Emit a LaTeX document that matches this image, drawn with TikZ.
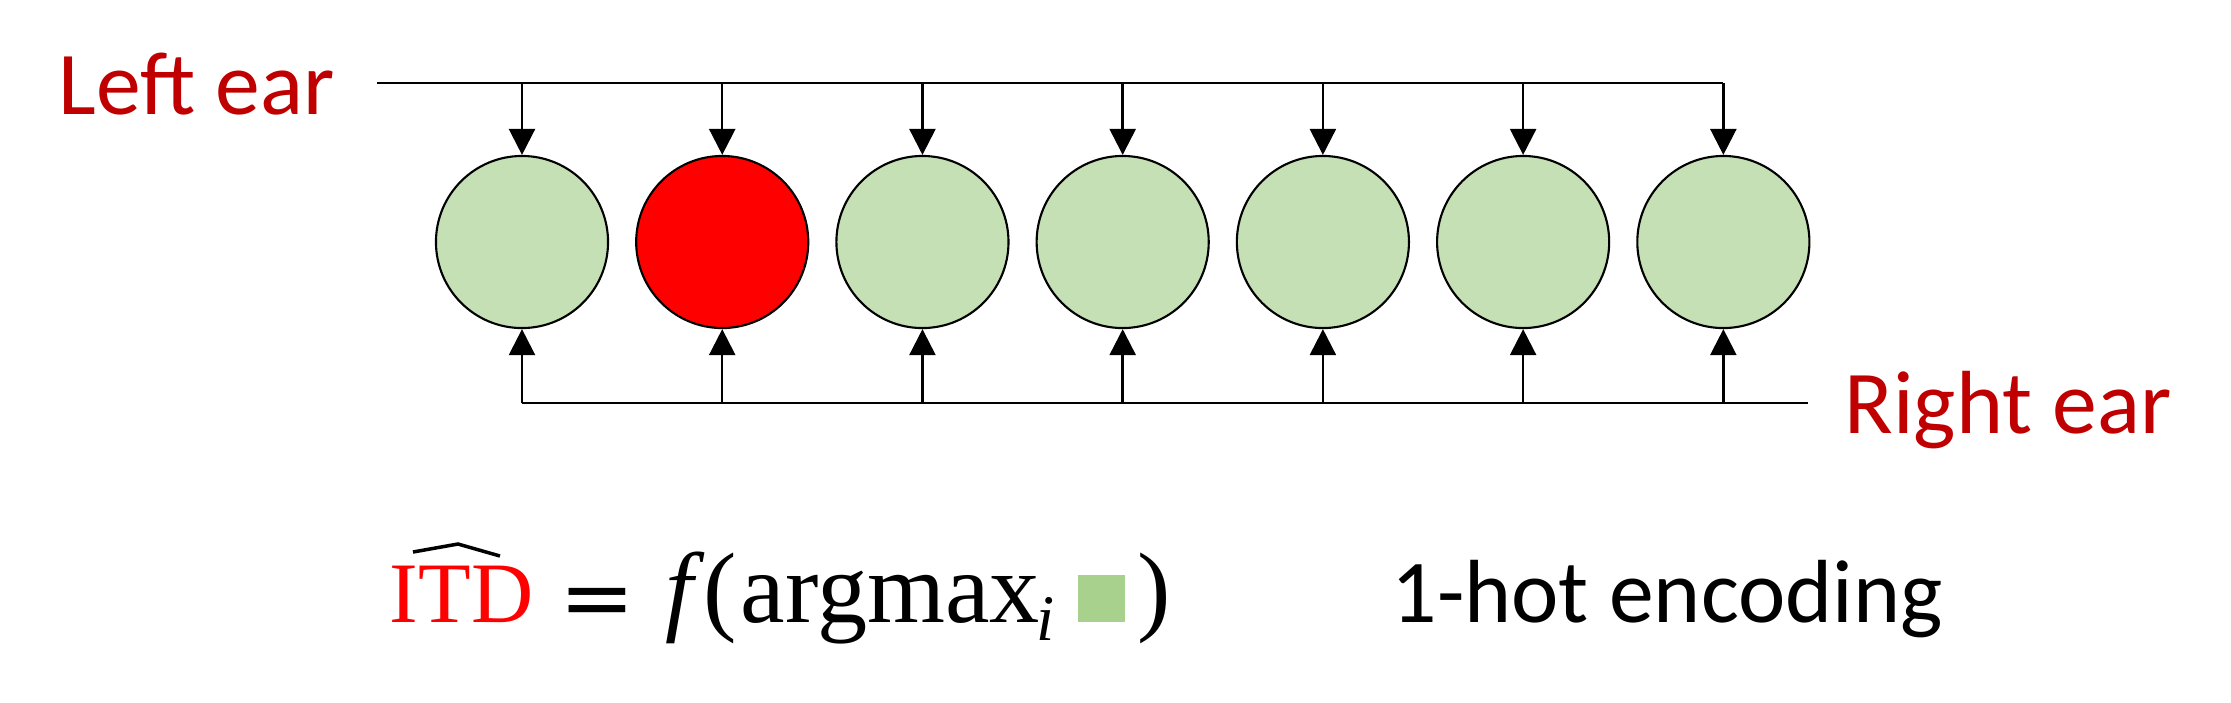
\documentclass[tikz,border=0pt]{standalone}
\usepackage{fontspec}
\setmainfont{Carlito}
\newfontfamily\formulafont{Liberation Serif}
\newfontfamily\equalfont{DejaVu Sans}
\usetikzlibrary{arrows.meta,positioning}

\definecolor{cellgreen}{HTML}{C5E0B4}
\definecolor{squaregreen}{HTML}{A9D18E}
\definecolor{earred}{HTML}{C00000}

\begin{document}
\begin{tikzpicture}[
    x=0.01cm, y=-0.01cm,
    cell/.style={circle, draw, line width=0.6pt, fill=cellgreen, minimum size=1.72cm, inner sep=0pt},
    ear/.style={anchor=base west, inner sep=0pt, text=earred, font=\fontsize{25.5}{30}\selectfont},
    feed/.style={line width=0.7pt, -{Triangle[length=2.6mm, width=2.6mm]}},
    bus/.style={line width=0.7pt},
    formula/.style={anchor=base west, inner sep=0pt, font=\formulafont\fontsize{28.5}{34}\selectfont},
    node distance=0.26cm
  ]
    \useasboundingbox (0,0) rectangle (2231,702);

    % row of ITD cells
    \node[cell] (c1) at (522,242) {};
    \node[cell, fill=red, right=of c1] (c2) {};
    \node[cell, right=of c2] (c3) {};
    \node[cell, right=of c3] (c4) {};
    \node[cell, right=of c4] (c5) {};
    \node[cell, right=of c5] (c6) {};
    \node[cell, right=of c6] (c7) {};

    \node[ear] (leftear) at (58,114) {Left ear};
    \node[ear] (rightear) at (1844,433) {Right ear};

    \coordinate (leftin) at (377,83);
    \coordinate (rightin) at (1808,403);

    % delay lines from both ears
    \draw[bus] (leftin) -- (leftin -| c7);
    \draw[bus] (c1 |- rightin) -- (rightin);
    \foreach \i in {1,...,7} {
      \draw[feed] (leftin -| c\i) -- (c\i.north);
      \draw[feed] (rightin -| c\i) -- (c\i.south);
    }

    % estimate and its hat
    \node[formula] (itd) at (389,622) {%
      \makebox[1.70cm][l]{\fontsize{24.5}{30}\selectfont\color{red}ITD}%
      \makebox[1.06cm][l]{\raisebox{-0.05cm}{\scalebox{1.05}[1]{\equalfont\fontsize{24.5}{30}\selectfont =}}}%
      \makebox[0.38cm][l]{\itshape f}%
      \makebox[0.37cm][l]{(}%
      \makebox[2.95cm][l]{argmax}%
      \makebox[0.42cm][l]{\raisebox{-0.18cm}{\fontsize{18.5}{20}\selectfont\itshape i}}%
      \makebox[0.59cm][l]{\textcolor{squaregreen}{\rule{0.47cm}{0.47cm}}}%
      )};
    \draw[line width=1pt] (413,552) -- (458,544) -- (500,556);

    \node[anchor=base west, inner sep=0pt, font=\fontsize{25.5}{30}\selectfont] (hot) at (1391,622) {1-hot encoding};
\end{tikzpicture}
\end{document}
